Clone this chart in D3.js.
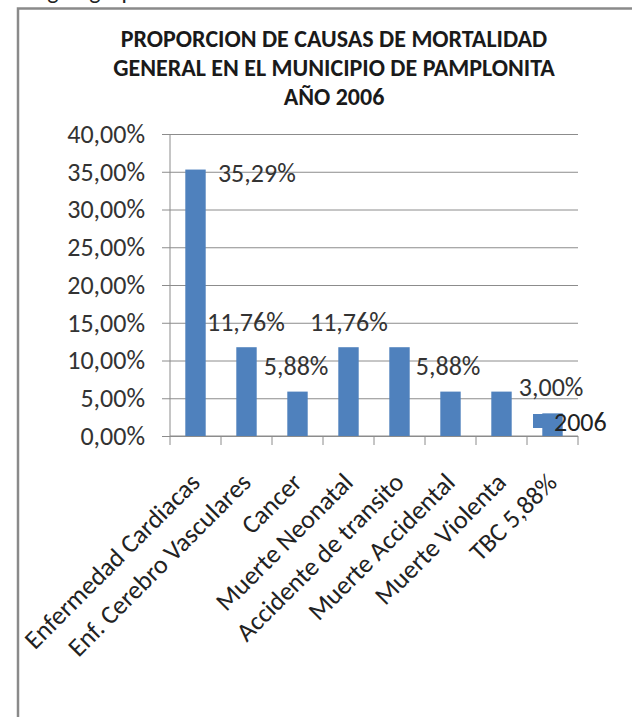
<!DOCTYPE html>
<html>
<head>
<meta charset="utf-8">
<script src="https://cdn.jsdelivr.net/npm/d3@7"></script>
<style>
  body { margin: 0; background: #fff; }
  svg { display: block; font-family: Carlito, Calibri, "Open Sans", sans-serif; }
</style>
</head>
<body>
<script>
// Proporcion de causas de mortalidad - Pamplonita 2006

var categories = [
  "Enfermedad Cardiacas",
  "Enf. Cerebro Vasculares",
  "Cancer",
  "Muerte Neonatal",
  "Accidente de transito",
  "Muerte Accidental",
  "Muerte Violenta",
  "TBC 5,88%"
];
var values2006 = [35.29, 11.76, 5.88, 11.76, 11.76, 5.88, 5.88, 3.00];
var yTicks = [0, 5, 10, 15, 20, 25, 30, 35, 40];
var dataLabels = ["35,29%", "11,76%", "5,88%", "11,76%", "5,88%", "3,00%"];
var seriesName = "2006";
var titleLines = [
  "PROPORCION DE CAUSAS DE MORTALIDAD",
  "GENERAL EN EL MUNICIPIO DE PAMPLONITA",
  "AÑO 2006"
];

var svgWidth = 632;
var svgHeight = 717;

var margin = { top: 134, left: 170 };
var width = 408;
var height = 302;

var svg = d3.select("body")
  .append("svg")
  .attr("width", svgWidth)
  .attr("height", svgHeight);

// cut-off text from the page above
svg.append("text")
  .attr("x", 26)
  .attr("y", -1)
  .attr("font-size", 24)
  .attr("fill", "#222")
  .text("según grupo de causas");

// chart frame (left and top edges only visible)
svg.append("path")
  .attr("d", "M18,717 L18,8.5 L632,8.5")
  .attr("fill", "none")
  .attr("stroke", "#8a8a8a")
  .attr("stroke-width", 2.5);

// title
svg.append("g")
  .selectAll("text")
  .data(titleLines)
  .enter()
  .append("text")
  .attr("x", 334)
  .attr("y", (d, i) => 47 + i * 29)
  .attr("text-anchor", "middle")
  .attr("font-weight", "bold")
  .attr("font-size", 24)
  .attr("fill", "#1a1a1a")
  .text(d => d);

var chartGroup = svg.append("g")
  .attr("transform", `translate(${margin.left}, ${margin.top})`);

var yScale = d3.scaleLinear()
  .domain([0, 40])
  .range([height, 0]);

var xScale = d3.scaleBand()
  .domain(categories)
  .range([0, width])
  .paddingInner(0.6)
  .paddingOuter(0.3);

// slot scale used for tick marks between categories and label placement
var slot = d3.scaleLinear()
  .domain([0, categories.length])
  .range([0, width]);

// gridlines + y axis
var leftAxis = d3.axisLeft(yScale)
  .tickValues(yTicks)
  .tickSize(-width - 8)
  .tickFormat(d => d3.format(".2f")(d).replace(".", ",") + "%");

var yAxis = chartGroup.append("g")
  .call(leftAxis)
  .attr("font-family", null)
  .attr("font-size", null);

yAxis.select(".domain").remove();
yAxis.selectAll(".tick line")
  .attr("x1", -8)
  .attr("x2", width)
  .attr("stroke", "#8c8c8c");
yAxis.selectAll(".tick text")
  .attr("x", -25)
  .attr("font-size", 26)
  .attr("fill", "#333");

chartGroup.append("line")
  .attr("x1", 0).attr("x2", 0)
  .attr("y1", 0).attr("y2", height)
  .attr("stroke", "#8c8c8c");

// x axis line and ticks between categories
chartGroup.append("line")
  .attr("x1", 0).attr("x2", width)
  .attr("y1", height).attr("y2", height)
  .attr("stroke", "#8c8c8c");

chartGroup.append("g")
  .selectAll("line")
  .data(d3.range(categories.length + 1))
  .enter()
  .append("line")
  .attr("x1", d => slot(d))
  .attr("x2", d => slot(d))
  .attr("y1", height)
  .attr("y2", height + 9)
  .attr("stroke", "#8c8c8c");

// category labels
var bottomAxis = d3.axisBottom(xScale).tickSize(0);
var xAxis = chartGroup.append("g")
  .attr("transform", `translate(0, ${height})`)
  .call(bottomAxis)
  .attr("font-family", null)
  .attr("font-size", null);
xAxis.select(".domain").remove();
xAxis.selectAll(".tick text")
  .attr("x", 0)
  .attr("y", 0)
  .attr("dy", 0)
  .attr("transform", "translate(6, 48) rotate(-45)")
  .attr("text-anchor", "end")
  .attr("font-size", 26)
  .attr("fill", "#222");

// bars
chartGroup.append("g")
  .selectAll("rect")
  .data(values2006)
  .enter()
  .append("rect")
  .attr("x", (d, i) => xScale(categories[i]))
  .attr("y", d => yScale(d))
  .attr("width", xScale.bandwidth())
  .attr("height", d => height - yScale(d))
  .attr("fill", "#4f81bd");

// data labels (placed where they sit in the original, in slot / value units)
var labelSlot = [0.94, 0.725, 1.84, 2.745, 4.82, 6.84];
var labelLevel = [34.84, 15.08, 9.15, 15.08, 9.15, 6.46];

chartGroup.append("g")
  .selectAll("text")
  .data(dataLabels)
  .enter()
  .append("text")
  .attr("x", (d, i) => slot(labelSlot[i]))
  .attr("y", (d, i) => yScale(labelLevel[i]))
  .attr("dy", "0.33em")
  .attr("font-size", 26)
  .attr("fill", "#333")
  .text(d => d);

// legend
var legend = svg.append("g")
  .attr("transform", "translate(533, 414)");
legend.append("rect")
  .attr("width", 16)
  .attr("height", 14)
  .attr("fill", "#4f81bd");
legend.append("text")
  .attr("x", 21)
  .attr("y", 8)
  .attr("dy", "0.33em")
  .attr("font-size", 26)
  .attr("fill", "#222")
  .text(seriesName);
</script>
</body>
</html>
